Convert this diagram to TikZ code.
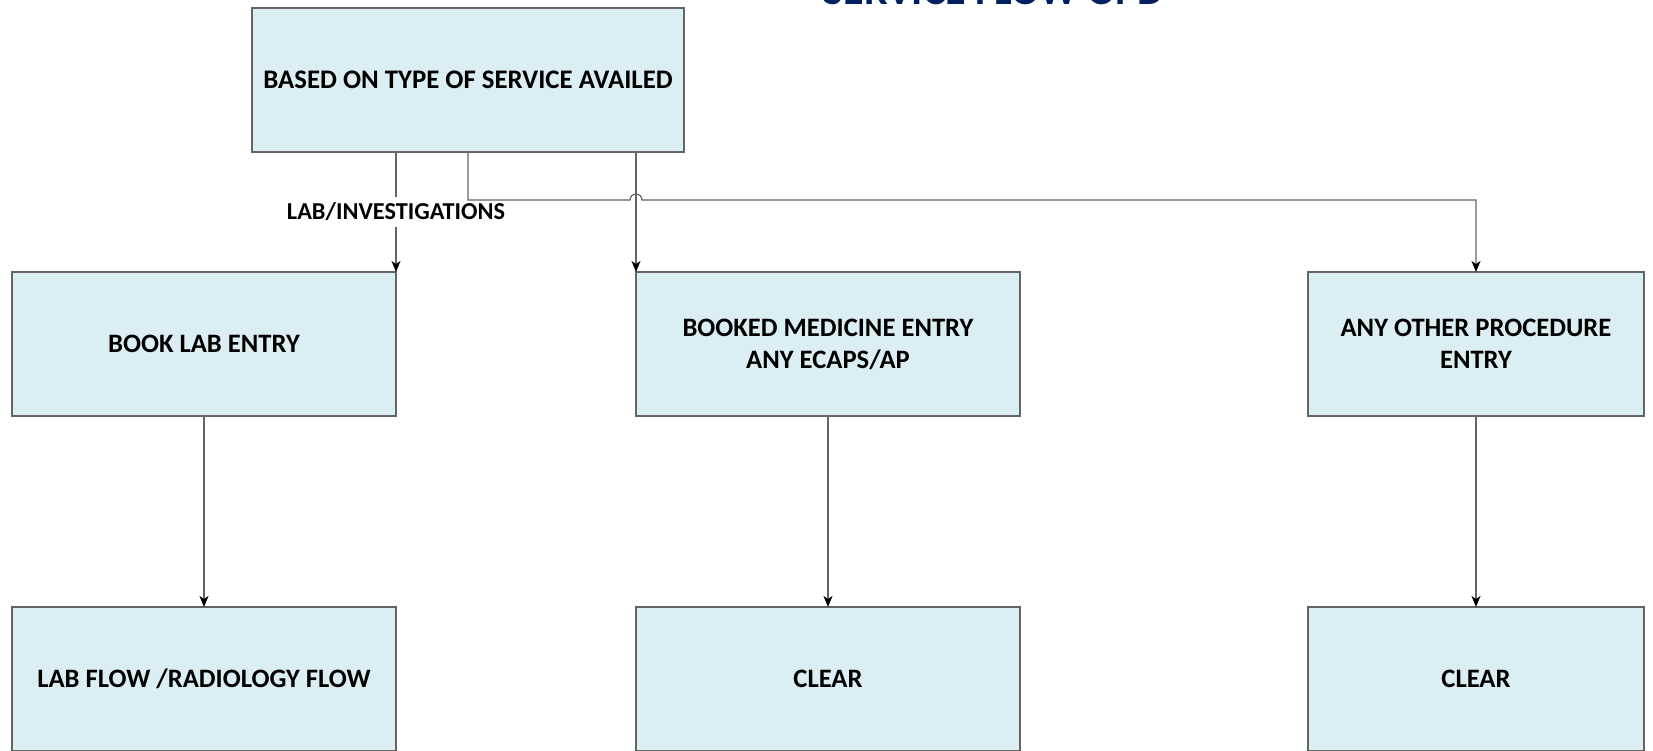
\documentclass[tikz,border=0pt]{standalone}
\usepackage{fontspec}
\setmainfont{Carlito}
\usetikzlibrary{positioning, arrows.meta}
\definecolor{boxfill}{RGB}{219,238,243}
\definecolor{boxline}{RGB}{100,100,100}
\definecolor{titleblue}{RGB}{0,32,96}
\tikzset{x=1pt, y=-1pt, >={Stealth[length=11pt, width=9pt, inset=3pt, color=black]},
  flowbox/.style={draw=boxline, line width=1.2pt, fill=boxfill, outer sep=0pt, inner sep=0pt,
    minimum width=384pt, minimum height=144pt, align=center,
    font=\fontsize{26.6}{32}\selectfont\bfseries},
  flow/.style={->, draw=boxline, line width=1.2pt}}

\begin{document}
\begin{tikzpicture}
    \useasboundingbox (0,0) rectangle (1653,750);
    \node[anchor=base, text=titleblue, font=\fontsize{42}{50}\selectfont\bfseries] (title) at (994,4) {SERVICE FLOW OPD};
    \node[flowbox, minimum width=432pt, font=\fontsize{26.8}{32}\selectfont\bfseries] (service) at (468,80) {BASED ON TYPE OF SERVICE AVAILED};
    \node[flowbox] (lab) at (204,344) {BOOK LAB ENTRY};
    \node[flowbox, right=240pt of lab] (medicine) {BOOKED MEDICINE ENTRY\\ANY ECAPS/AP};
    \node[flowbox, minimum width=336pt, right=288pt of medicine] (procedure) {ANY OTHER PROCEDURE\\ENTRY};
    \node[flowbox, below=191pt of lab] (labflow) {LAB FLOW /RADIOLOGY FLOW};
    \node[flowbox, below=191pt of medicine] (clear-med) {CLEAR};
    \node[flowbox, minimum width=336pt, below=191pt of procedure] (clear-proc) {CLEAR};
    \path (medicine.north west) ++(0,-72) coordinate (hop);
    \draw[flow] (service.south -| lab.north east) -- node[fill=white, inner sep=6pt, font=\fontsize{24.3}{28}\selectfont\bfseries] {LAB/INVESTIGATIONS} (lab.north east);
    \draw[flow] (service.south -| medicine.north west) -- (medicine.north west);
    \draw[flow] (service.south) |- ([xshift=-6pt]hop) arc[start angle=180, end angle=0, radius=6pt] -| (procedure.north);
    \foreach \from/\to in {lab/labflow, medicine/clear-med, procedure/clear-proc}
        \draw[flow] (\from.south) -- (\to.north);
\end{tikzpicture}
\end{document}
